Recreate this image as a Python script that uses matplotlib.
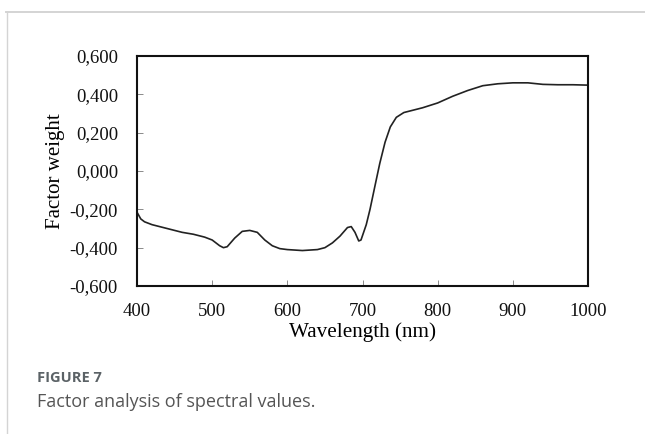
import matplotlib
matplotlib.use("Agg")
import matplotlib.pyplot as plt
from matplotlib.lines import Line2D

# spectral factor weights
wavelength = [400, 405, 410, 420, 440, 460, 475, 490, 500, 510, 515, 520, 530, 540,
              550, 560, 570, 580, 590, 600, 620, 640, 650, 660, 670, 680, 685, 690,
              695, 698, 705, 710, 717, 723, 730, 737, 745, 755, 765, 780, 800, 820,
              840, 860, 880, 900, 920, 940, 960, 980, 1000]
weight = [-0.215, -0.25, -0.265, -0.28, -0.30, -0.32, -0.33, -0.345, -0.36, -0.39,
          -0.40, -0.395, -0.35, -0.315, -0.31, -0.32, -0.36, -0.39, -0.405, -0.41,
          -0.415, -0.41, -0.40, -0.375, -0.34, -0.295, -0.29, -0.32, -0.365, -0.36,
          -0.28, -0.20, -0.07, 0.04, 0.15, 0.23, 0.28, 0.305, 0.315, 0.33, 0.355,
          0.39, 0.42, 0.445, 0.455, 0.46, 0.46, 0.452, 0.45, 0.45, 0.448]

x_ticks = [400, 500, 600, 700, 800, 900, 1000]
y_ticks = [-0.6, -0.4, -0.2, 0.0, 0.2, 0.4, 0.6]
y_labels = ["-0,600", "-0,400", "-0,200", "0,000", "0,200", "0,400", "0,600"]

serif = "Liberation Serif"

fig = plt.figure(figsize=(6.45, 4.34), dpi=100)
ax = fig.add_axes([137 / 645, 1 - 286 / 434, 451 / 645, 230 / 434])

ax.plot(wavelength, weight, color="#222222", linewidth=1.2)
ax.set_xlim(400, 1000)
ax.set_ylim(-0.6, 0.6)
ax.set_xticks(x_ticks)
ax.set_xticklabels([str(t) for t in x_ticks], fontfamily=serif, fontsize=13.5)
ax.set_yticks(y_ticks)
ax.set_yticklabels(y_labels, fontfamily=serif, fontsize=13.5)
ax.tick_params(direction="in", length=4, width=0.6, color="#777777", labelcolor="#111111")
ax.tick_params(axis="y", pad=13.7)
ax.tick_params(axis="x", pad=12.2)
for s in ax.spines.values():
    s.set_linewidth(1.5)
    s.set_color("#111111")
ax.set_xlabel("Wavelength (nm)", fontfamily=serif, fontsize=15.2, labelpad=2)
ax.set_ylabel("Factor weight", fontfamily=serif, fontsize=15, labelpad=3)

# page frame
fig.add_artist(Line2D([6 / 645, 1], [1 - 12 / 434, 1 - 12 / 434], color="#d4d4d4", linewidth=1.4))
fig.add_artist(Line2D([6.5 / 645, 6.5 / 645], [0, 1 - 12 / 434], color="#d4d4d4", linewidth=1.0))

fig.text(37 / 645, 1 - 382 / 434, "FIGURE 7", fontfamily="Open Sans", fontweight="bold",
         fontsize=10.5, color="#5b6266", va="baseline")
fig.text(37 / 645, 1 - 407 / 434, "Factor analysis of spectral values.", fontfamily="Open Sans",
         fontsize=13, color="#555555", va="baseline")

fig.savefig("out.png", dpi=100)
